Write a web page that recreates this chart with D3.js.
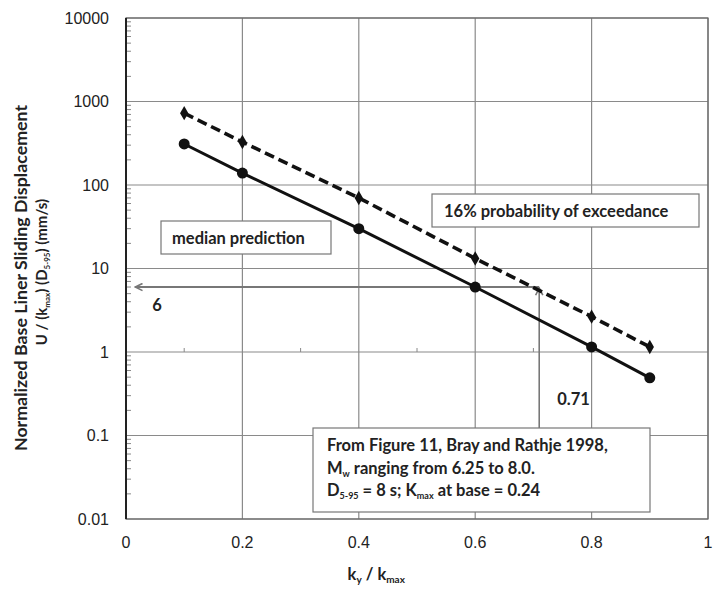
<!DOCTYPE html>
<html>
<head>
<meta charset="utf-8">
<script src="https://cdn.jsdelivr.net/npm/d3@7"></script>
<style>
  body { margin: 0; background: #fff; }
  svg { display: block; }
  .tick-label { font-family: "Liberation Sans", Arial, sans-serif; font-size: 16px; fill: #222; }
  .note { font-family: Lato, "Open Sans", sans-serif; font-weight: bold; font-size: 16.5px; fill: #222; }
  .ytitle { font-family: Lato, "Open Sans", sans-serif; font-weight: bold; fill: #222; }
</style>
</head>
<body>
<svg id="chart"></svg>
<script>
const W = 713, H = 592;

// values
const kRatio = [0.1, 0.2, 0.4, 0.6, 0.8, 0.9];
const medianDisp = [310, 139, 30, 6.0, 1.15, 0.49];
const exceed16 = [725, 327, 70, 13.2, 2.65, 1.15];
const xTicks = [0, 0.2, 0.4, 0.6, 0.8, 1];
const yTicks = [0.01, 0.1, 1, 10, 100, 1000, 10000];
const readK = 0.71, readU = 6;

const margin = {top: 18, right: 5, bottom: 73, left: 126};
const width = W - margin.left - margin.right,
  height = H - margin.top - margin.bottom;

const svg = d3.select("#chart").attr("width", W).attr("height", H);
const plot = svg.append("g").attr("transform", `translate(${margin.left},${margin.top})`);

const x = d3.scaleLinear().domain([0, 1]).range([0, width]);
const y = d3.scaleLog().domain([0.01, 10000]).range([height, 0]);

// minor ticks on the y axis
const minor = [];
yTicks.slice(0, -1).forEach(t => { for (let m = 2; m <= 9; m++) minor.push(t * m); });
plot.append("g").selectAll("line").data(minor).enter().append("line")
  .attr("x1", 0).attr("x2", 5)
  .attr("y1", d => y(d)).attr("y2", d => y(d))
  .attr("stroke", "#888").attr("stroke-width", 1);

// grid
plot.append("g").selectAll("line").data(yTicks).enter().append("line")
  .attr("x1", 0).attr("x2", width)
  .attr("y1", d => y(d)).attr("y2", d => y(d))
  .attr("stroke", "#8a8a8a").attr("stroke-width", 1.2);
plot.append("g").selectAll("line").data(xTicks.slice(1)).enter().append("line")
  .attr("x1", d => x(d)).attr("x2", d => x(d))
  .attr("y1", 0).attr("y2", height)
  .attr("stroke", "#8a8a8a").attr("stroke-width", 1.2);

// small ticks where the horizontal axis crosses at 1
plot.append("g").selectAll("line").data(d3.range(1, 10, 2).map(d => d / 10)).enter().append("line")
  .attr("x1", d => x(d)).attr("x2", d => x(d))
  .attr("y1", y(1) - 4).attr("y2", y(1))
  .attr("stroke", "#888");

// plot frame
plot.append("rect").attr("width", width).attr("height", height)
  .attr("fill", "none").attr("stroke", "#666").attr("stroke-width", 1.2);
plot.append("line").attr("x1", 0).attr("x2", 0).attr("y1", 0).attr("y2", height)
  .attr("stroke", "#222").attr("stroke-width", 2);

// tick labels
plot.append("g").selectAll("text").data(yTicks).enter().append("text")
  .attr("class", "tick-label")
  .attr("x", -17).attr("y", d => y(d)).attr("dy", "0.35em")
  .attr("text-anchor", "end")
  .text(d => d >= 1 ? d3.format("d")(d) : String(d));
plot.append("g").selectAll("text").data(xTicks).enter().append("text")
  .attr("class", "tick-label")
  .attr("x", d => x(d)).attr("y", height + 29)
  .attr("text-anchor", "middle")
  .text(d => String(d));

// read-off arrows
plot.append("defs").append("marker")
  .attr("id", "arr").attr("viewBox", "0 0 10 10").attr("refX", 9).attr("refY", 5)
  .attr("markerWidth", 9).attr("markerHeight", 9).attr("orient", "auto-start-reverse")
  .attr("markerUnits", "userSpaceOnUse")
  .append("path").attr("d", "M1,1 L9,5 L1,9").attr("fill", "none")
  .attr("stroke", "#777").attr("stroke-width", 1.8);
plot.append("line")
  .attr("x1", x(readK)).attr("x2", x(0.016))
  .attr("y1", y(readU)).attr("y2", y(readU))
  .attr("stroke", "#777").attr("stroke-width", 2.2).attr("marker-end", "url(#arr)");
plot.append("line")
  .attr("x1", x(readK)).attr("x2", x(readK))
  .attr("y1", y(0.12)).attr("y2", y(readU) + 1)
  .attr("stroke", "#777").attr("stroke-width", 1.6).attr("marker-end", "url(#arr)");
plot.append("text").attr("class", "note")
  .attr("x", x(0.045)).attr("y", y(readU) + 24).text(readU);
plot.append("text").attr("class", "note")
  .attr("x", x(readK) + 18).attr("y", y(0.3) + 9).text(readK);

// series lines
const line = d3.line().x(d => x(d[0])).y(d => y(d[1]));
const med = kRatio.map((k, i) => [k, medianDisp[i]]);
const p16 = kRatio.map((k, i) => [k, exceed16[i]]);

plot.append("path").datum(p16).attr("d", line)
  .attr("fill", "none").attr("stroke", "#111").attr("stroke-width", 3.6)
  .attr("stroke-dasharray", "10,5");
plot.append("g").selectAll("path").data(p16).enter().append("path")
  .attr("d", d3.symbol(d3.symbolDiamond, 60))
  .attr("transform", d => `translate(${x(d[0])},${y(d[1])})`)
  .attr("fill", "#111");

plot.append("path").datum(med).attr("d", line)
  .attr("fill", "none").attr("stroke", "#111").attr("stroke-width", 3);
plot.append("g").selectAll("circle").data(med).enter().append("circle")
  .attr("cx", d => x(d[0])).attr("cy", d => y(d[1])).attr("r", 5.5)
  .attr("fill", "#111");

// text boxes
function box(x0, y0, w, h) {
  svg.append("rect").attr("x", x0).attr("y", y0).attr("width", w).attr("height", h)
    .attr("fill", "#fff").attr("stroke", "#777").attr("stroke-width", 1.2);
}
box(161, 221, 170, 33);
svg.append("text").attr("class", "note").attr("x", 172).attr("y", 244).text("median prediction");
box(432, 194, 267, 33);
svg.append("text").attr("class", "note").attr("font-size", "19px")
  .attr("x", 444).attr("y", 217).text("16% probability of exceedance");

box(313, 428, 337, 84);
const nb = svg.append("text").attr("class", "note");
nb.append("tspan").attr("x", 327).attr("y", 451).text("From Figure 11, Bray and Rathje 1998,");
const l2 = nb.append("tspan").attr("x", 327).attr("y", 474);
l2.append("tspan").text("M");
l2.append("tspan").attr("font-size", "9px").attr("dy", 3).text("w");
l2.append("tspan").attr("dy", -3).text(" ranging from 6.25 to 8.0.");
const l3 = nb.append("tspan").attr("x", 327).attr("y", 496);
l3.append("tspan").text("D");
l3.append("tspan").attr("font-size", "9px").attr("dy", 3).text("5-95");
l3.append("tspan").attr("dy", -3).text(" = 8 s; K");
l3.append("tspan").attr("font-size", "9px").attr("dy", 3).text("max");
l3.append("tspan").attr("dy", -3).text(" at base = 0.24");

// axis titles
const xt = svg.append("text").attr("class", "note").attr("text-anchor", "middle")
  .attr("x", margin.left + x(0.43)).attr("y", 580);
xt.append("tspan").text("k");
xt.append("tspan").attr("font-size", "10px").attr("dy", 3).text("y");
xt.append("tspan").attr("dy", -3).text(" / k");
xt.append("tspan").attr("font-size", "10px").attr("dy", 3).text("max");

svg.append("text").attr("class", "ytitle").attr("text-anchor", "middle")
  .attr("font-size", "17.8px")
  .attr("transform", "translate(27,278) rotate(-90)")
  .text("Normalized Base Liner Sliding Displacement");
const yt2 = svg.append("text").attr("class", "ytitle").attr("text-anchor", "middle")
  .attr("font-size", "15px")
  .attr("transform", "translate(47,272) rotate(-90)");
yt2.append("tspan").text("U / (k");
yt2.append("tspan").attr("font-size", "8px").attr("dy", 3).text("max");
yt2.append("tspan").attr("dy", -3).text(") (D");
yt2.append("tspan").attr("font-size", "8px").attr("dy", 3).text("5-95");
yt2.append("tspan").attr("dy", -3).text(") (mm/s)");
</script>
</body>
</html>
